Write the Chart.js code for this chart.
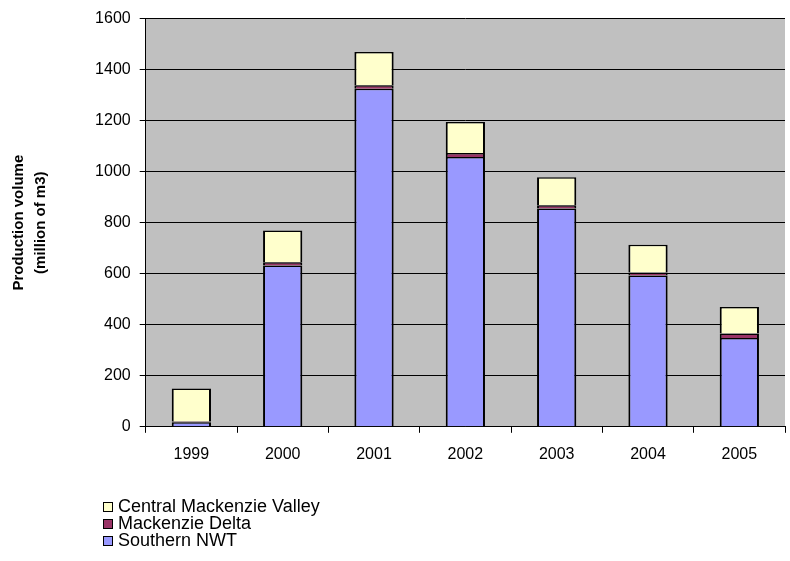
<!DOCTYPE html>
<html>
<head>
<meta charset="utf-8">
<script src="https://cdn.jsdelivr.net/npm/chart.js@4"></script>
<style>
  html, body { margin: 0; padding: 0; background: #fff; }
  #wrap { position: relative; width: 790px; height: 561px; }
  #legend { position: absolute; left: 103px; top: 498px; font-family: "Liberation Sans", Arial, sans-serif; font-size: 18px; color: #000; }
  .li { display: flex; align-items: center; height: 17px; line-height: 17px; }
  .sw { width: 8px; height: 8px; border: 1px solid #000; margin-right: 5px; }
</style>
</head>
<body>
<div id="wrap">
  <canvas id="c" width="790" height="561"></canvas>
  <div id="legend"></div>
</div>
<script>
const categories = ["1999", "2000", "2001", "2002", "2003", "2004", "2005"];
const southernNWT = [18, 632, 1325, 1058, 856, 593, 348];
const mackenzieDelta = [3, 13, 14, 15, 12, 12, 18];
const centralMackenzieValley = [129, 124, 130, 122, 110, 109, 104];
const yTicks = [0, 200, 400, 600, 800, 1000, 1200, 1400, 1600];

const seriesNames = ["Southern NWT", "Mackenzie Delta", "Central Mackenzie Valley"];
const seriesColors = ["#9999FF", "#993366", "#FFFFCC"];
const seriesData = [southernNWT, mackenzieDelta, centralMackenzieValley];

const bgPlugin = {
  id: 'plotBg',
  beforeDraw(chart) {
    const a = chart.chartArea, ctx = chart.ctx;
    ctx.save();
    ctx.fillStyle = '#C0C0C0';
    ctx.fillRect(a.left, a.top, a.right - a.left, a.bottom - a.top);
    ctx.restore();
  }
};

const font = { family: '"Liberation Sans", Arial, sans-serif', size: 16 };

new Chart(document.getElementById('c'), {
  type: 'bar',
  data: {
    labels: categories,
    datasets: seriesData.map((d, i) => ({
      label: seriesNames[i],
      data: d,
      backgroundColor: seriesColors[i],
      borderColor: '#000',
      borderWidth: { top: 1.5, bottom: 0, left: 2, right: 2 },
      borderSkipped: false,
      barPercentage: 0.43,
      categoryPercentage: 1.0
    }))
  },
  options: {
    responsive: false,
    animation: false,
    devicePixelRatio: 1,
    layout: { padding: { top: 17, right: 5, bottom: 85, left: 4 } },
    plugins: { legend: { display: false }, tooltip: { enabled: false } },
    scales: {
      x: {
        stacked: true,
        grid: { display: true, offset: true, drawOnChartArea: false, drawTicks: true, tickLength: 6, color: '#000' },
        border: { color: '#000', width: 1 },
        ticks: { color: '#000', font: font, padding: 12, maxRotation: 0 }
      },
      y: {
        stacked: true,
        min: 0, max: 1600,
        afterBuildTicks(scale) { scale.ticks = yTicks.map(v => ({ value: v })); },
        grid: { color: '#000', lineWidth: 1, tickLength: 6 },
        border: { color: '#000', width: 1 },
        ticks: { color: '#000', font: font, padding: 9, callback: v => String(v) },
        title: {
          display: true,
          text: ["Production volume", "(million of m3)"],
          color: '#000',
          font: { family: '"Liberation Sans", Arial, sans-serif', size: 15, weight: 'bold', lineHeight: 1.47 },
          padding: { top: 4, bottom: 34 }
        }
      }
    }
  },
  plugins: [bgPlugin]
});

const leg = document.getElementById('legend');
for (let i = seriesNames.length - 1; i >= 0; i--) {
  const row = document.createElement('div');
  row.className = 'li';
  const sw = document.createElement('span');
  sw.className = 'sw';
  sw.style.background = seriesColors[i];
  const t = document.createElement('span');
  t.textContent = seriesNames[i];
  row.appendChild(sw); row.appendChild(t);
  leg.appendChild(row);
}
</script>
</body>
</html>
